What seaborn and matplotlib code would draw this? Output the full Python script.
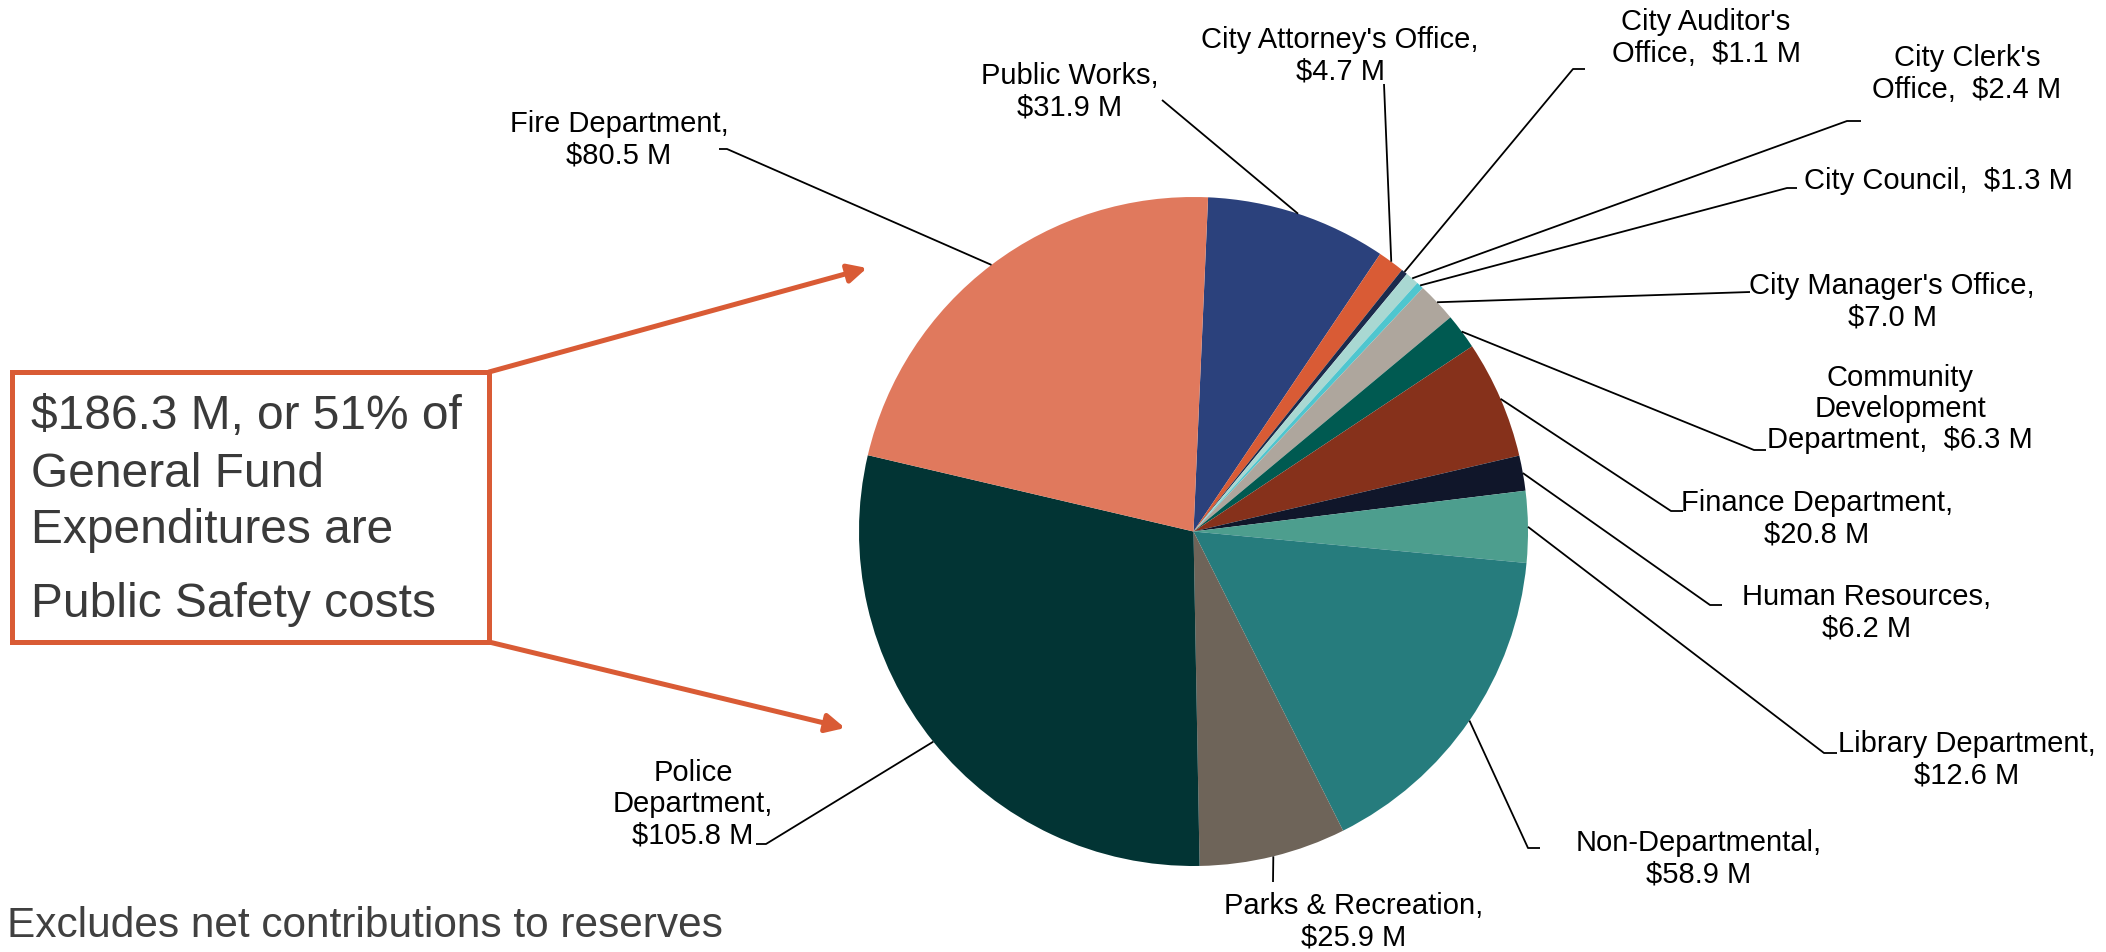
import matplotlib
matplotlib.use("Agg")
import matplotlib.pyplot as plt
import seaborn as sns
import numpy as np
from matplotlib.patches import Rectangle

# ---- data ----
departments = ["Public Works", "City Attorney's Office", "City Auditor's\nOffice",
               "City Clerk's\nOffice", "City Council", "City Manager's Office",
               "Community\nDevelopment\nDepartment", "Finance Department",
               "Human Resources", "Library Department", "Non-Departmental",
               "Parks & Recreation", "Police\nDepartment", "Fire Department"]
values = [31.9, 4.7, 1.1, 2.4, 1.3, 7.0, 6.3, 20.8, 6.2, 12.6, 58.9, 25.9, 105.8, 80.5]
value_sep = ["\n", "\n", "  ", "  ", "  ", "\n", "  ", "\n", "\n", "\n", "\n", "\n", "\n", "\n"]
colors = ["#2B417C", "#D95B35", "#1B2A4C", "#A9D8D2", "#4FC6CF", "#AEA69D", "#005A51",
          "#86311B", "#10162A", "#4D9E8E", "#267C7D", "#6E6459", "#023434", "#E0795D"]
callout_lines = ["$186.3 M, or 51% of", "General Fund", "Expenditures are", "Public Safety costs"]
footnote = "Excludes net contributions to reserves"

# ---- layout (image pixel coords) ----
W, H = 2106, 953
label_xy = [(1070, 92), (1340, 56), (1706, 38), (1967, 74), (1938, 181), (1892, 302),
            (1900, 409), (1817, 519), (1867, 613), (1967, 760), (1699, 859),
            (1354, 922), (693, 804), (619, 140)]
leader_end = [(1162, 101), (1384, 85), (1573, 70), (1847, 122), (1787, 189), (1750, 293),
              (1754, 451), (1671, 512), (1710, 606), (1824, 754), (1528, 849),
              (1273, 883), (766, 845), (727, 150)]
tick_dx = [0, 0, 12, 14, 10, 0, 12, 12, 12, 13, 12, 0, -10, -8]

sns.set_theme(style="white")
plt.rcParams['font.family'] = ['Liberation Sans', 'DejaVu Sans']

fig = plt.figure(figsize=(W / 100, H / 100), dpi=100)
ax = fig.add_axes([0, 0, 1, 1])

cx, cy, R = 1193.5, H - 532.5, 334.5
wedges, _ = ax.pie(values, colors=colors, startangle=87.5, counterclock=False,
                   center=(cx, cy), radius=R, wedgeprops=dict(linewidth=0))
ax.set_xlim(0, W)
ax.set_ylim(0, H)
ax.set_aspect('equal')
ax.axis('off')

for w, name, v, sep, (lx, ly), (ex, ey), dx in zip(wedges, departments, values, value_sep,
                                                  label_xy, leader_end, tick_dx):
    mid = np.deg2rad((w.theta1 + w.theta2) / 2)
    px, py = cx + R * np.cos(mid), cy + R * np.sin(mid)
    xs = [px, ex]
    ys = [py, H - ey]
    if dx:
        xs.append(ex + dx)
        ys.append(H - ey)
    ax.plot(xs, ys, color="black", lw=1.3, solid_capstyle='butt', zorder=3)
    ax.text(lx, H - ly, f"{name},{sep}${v:.1f} M", ha="center", va="center",
            fontsize=21, color="black", linespacing=1.15)

orange = "#D95B35"
ax.add_patch(Rectangle((12, H - 643), 477, 270, fill=False, edgecolor=orange, lw=3.6, zorder=4))
for t, yb in zip(callout_lines, [429, 487, 543, 617]):
    ax.text(31, H - yb, t, ha="left", va="baseline", fontsize=34.5, color="#3A3A3A")

for start, tip in [((489, 373), (867, 269)), ((489, 643), (845, 729))]:
    ax.annotate("", xy=(tip[0], H - tip[1]), xytext=(start[0], H - start[1]),
                arrowprops=dict(arrowstyle="-|>", color=orange, lw=3.6,
                                mutation_scale=28, shrinkA=0, shrinkB=0))

ax.text(7, H - 937, footnote, ha="left", va="baseline", fontsize=30.5, color="#404040")

fig.savefig("out.png", dpi=100, facecolor="white")
